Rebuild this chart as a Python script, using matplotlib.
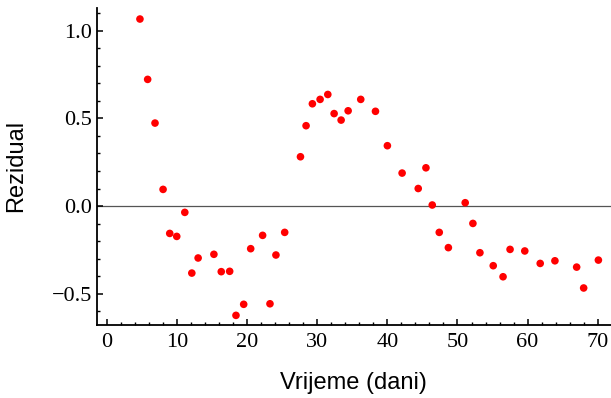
import numpy as np
import matplotlib
matplotlib.use('Agg')
from matplotlib import pyplot as plt
from matplotlib.ticker import MultipleLocator

# residuals
days = [4.7, 5.8, 6.85, 8.0, 8.95, 9.95, 11.1, 12.1, 13.0, 15.25, 16.3, 17.5,
        18.4, 19.5, 20.5, 22.2, 23.25, 24.1, 25.35, 27.6, 28.4, 29.3, 30.4,
        31.5, 32.4, 33.4, 34.4, 36.2, 38.3, 40.0, 42.1, 44.4, 45.5, 46.4,
        47.4, 48.7, 51.1, 52.2, 53.2, 55.1, 56.5, 57.5, 59.6, 61.8, 63.9,
        67.0, 68.0, 70.1]
resid = [1.066, 0.722, 0.473, 0.095, -0.156, -0.173, -0.036, -0.382, -0.296,
         -0.275, -0.374, -0.372, -0.623, -0.56, -0.243, -0.167, -0.557, -0.279,
         -0.15, 0.281, 0.458, 0.583, 0.608, 0.636, 0.527, 0.49, 0.543, 0.608,
         0.54, 0.344, 0.188, 0.1, 0.218, 0.006, -0.15, -0.237, 0.019, -0.099,
         -0.266, -0.34, -0.403, -0.247, -0.256, -0.327, -0.312, -0.348, -0.467,
         -0.308]

xticks = [0, 10, 20, 30, 40, 50, 60, 70]
yticks = [-0.5, 0.0, 0.5, 1.0]
ytick_labels = ['\u22120.5', '0.0', '0.5', '1.0']

fig = plt.figure(figsize=(6.11, 3.98), dpi=100)
ax = fig.add_axes([0.1594, 0.1834, 0.8406, 0.797])

ax.axhline(0, color='#555555', lw=0.9, zorder=1)
ax.scatter(days, resid, s=30, color='#ff0000', edgecolors='none', zorder=3)

ax.set_xlim(-1.37, 71.9)
ax.set_ylim(-0.678, 1.13)

for s in ['top', 'right']:
    ax.spines[s].set_visible(False)
for s in ['left', 'bottom']:
    ax.spines[s].set_linewidth(1.3)

ax.set_xticks(xticks)
ax.set_xticklabels([str(t) for t in xticks])
ax.set_yticks(yticks)
ax.set_yticklabels(ytick_labels)
ax.xaxis.set_minor_locator(MultipleLocator(2))
ax.yaxis.set_minor_locator(MultipleLocator(0.1))

ax.tick_params(which='major', direction='in', length=4.5, width=1.1)
ax.tick_params(which='minor', direction='in', length=2.5, width=1.0)
ax.tick_params(axis='x', which='major', pad=6)
ax.tick_params(axis='y', which='major', pad=4)
for lab in ax.get_xticklabels() + ax.get_yticklabels():
    lab.set_fontfamily('Liberation Serif')
    lab.set_fontsize(16)

ax.set_xlabel('Vrijeme (dani)', fontfamily='Liberation Sans', fontsize=17)
ax.set_ylabel('Rezidual', fontfamily='Liberation Sans', fontsize=17)
ax.xaxis.set_label_coords(0.4984, -0.149)
ax.yaxis.set_label_coords(-0.137, 0.501)

fig.savefig('out.png', dpi=100)
